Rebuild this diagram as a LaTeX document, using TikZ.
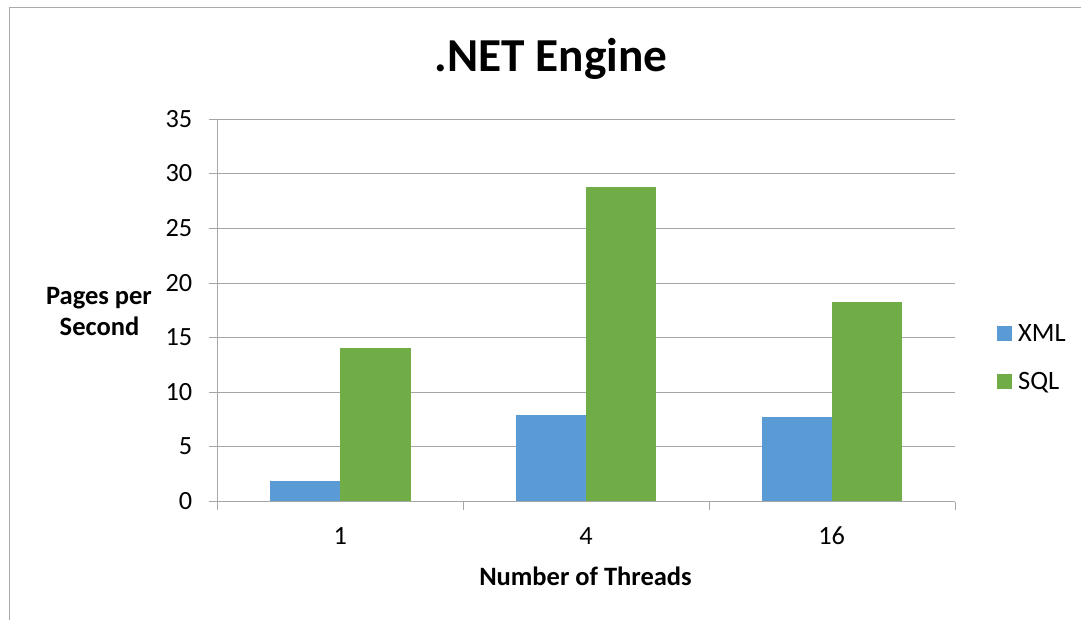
\documentclass[tikz,border=0pt]{standalone}
\usepackage{fontspec}
\setmainfont{Carlito}
\definecolor{xmlblue}{HTML}{5B9BD5}
\definecolor{sqlgreen}{HTML}{70AD47}
\definecolor{gridgray}{RGB}{166,166,166}
\definecolor{framegray}{RGB}{170,170,170}
\begin{document}
\begin{tikzpicture}[x=1pt,y=-1pt,
  grid/.style={draw=gridgray,line width=1pt},
  ticklab/.style={anchor=base east,inner sep=0pt,font=\fontsize{26.3}{31}\selectfont},
  catlab/.style={anchor=base,inner sep=0pt,font=\fontsize{26.3}{31}\selectfont},
  axtitle/.style={inner sep=0pt,font=\bfseries\fontsize{26.5}{31}\selectfont},
  xmlbar/.style={fill=xmlblue,draw=none},
  sqlbar/.style={fill=sqlgreen,draw=none},
  legtext/.style={anchor=base west,inner sep=0pt,font=\fontsize{26.5}{31}\selectfont}]
\useasboundingbox (0,0) rectangle (1081,620);
\fill[white] (0,0) rectangle (1081,620);
% outer frame (cropped)
\draw[framegray,line width=1pt] (9,620) -- (9,7.3) -- (1081,7.3);
% title
\node[anchor=base,inner sep=0pt,font=\bfseries\fontsize{47.3}{54}\selectfont] (title) at (551,71.7) {.NET Engine};
% gridlines and y tick labels
\foreach \v in {0,5,...,35}{
  \pgfmathsetmacro{\yy}{501.5-10.92*\v}
  \draw[grid] (209,\yy) -- (955,\yy);
  \node[ticklab] (t\v) at (192.5,\yy+8) {\v};
}
% y axis
\draw[grid] (217.3,119) -- (217.3,501.5);
% x ticks
\foreach \xx in {217.3,463,709,955}{
  \draw[grid] (\xx,501.5) -- (\xx,509.5);
}
% bars
\newcommand{\mybar}[4]{\path[#1] (#2,501.5) rectangle (#3,{501.5-10.92*#4});}
\mybar{xmlbar}{270}{340.3}{1.9}
\mybar{sqlbar}{340.3}{410.7}{14.1}
\mybar{xmlbar}{515.7}{586}{7.92}
\mybar{sqlbar}{586}{656}{28.8}
\mybar{xmlbar}{761.7}{831.7}{7.7}
\mybar{sqlbar}{831.7}{902}{18.27}
% redraw baseline axis on top
\draw[grid] (209,501.5) -- (955,501.5);
% category labels
\node[catlab] (c1) at (340.3,544) {1};
\node[catlab] (c4) at (586,544) {4};
\node[catlab] (c16) at (831.7,544) {16};
% axis titles
\node[axtitle,anchor=base] (xt) at (585.5,585) {Number of Threads};
\node[axtitle,anchor=base] (yt1) at (99,304) {Pages per};
\node[axtitle,anchor=base] (yt2) at (99.5,335) {Second};
% legend
\fill[xmlblue] (997,326) rectangle (1011.7,341);
\node[legtext] (lx) at (1018,341) {XML};
\fill[sqlgreen] (997,374.3) rectangle (1011.7,389);
\node[legtext] (ls) at (1018,389.3) {SQL};
\end{tikzpicture}
\end{document}
